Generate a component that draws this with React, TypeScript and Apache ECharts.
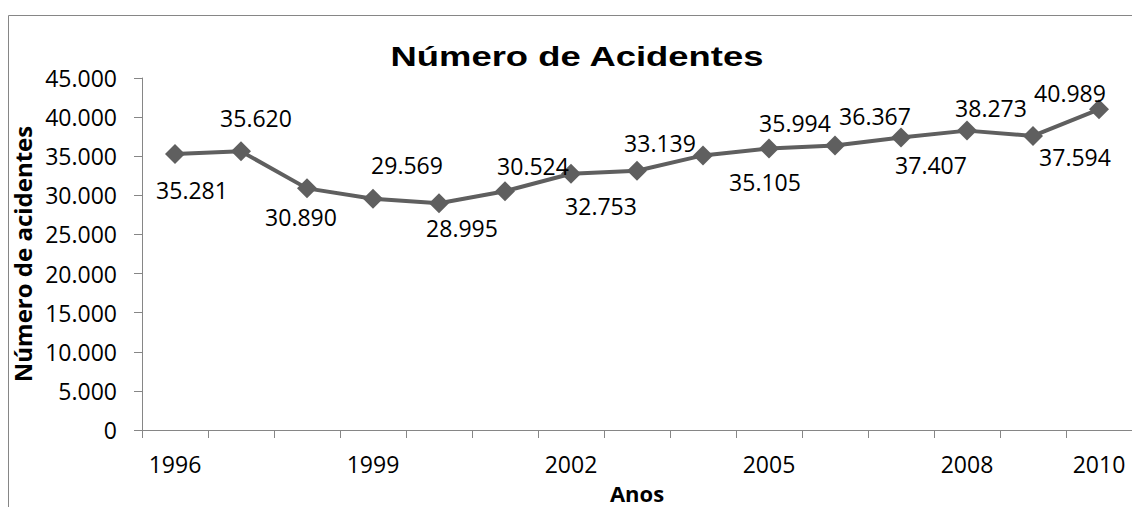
import React, { useEffect, useRef } from "react";
import * as echarts from "echarts";

const years = ["1996", "1997", "1998", "1999", "2000", "2001", "2002", "2003", "2004", "2005", "2006", "2007", "2008", "2009", "2010"];
const accidents = [35281, 35620, 30890, 29569, 28995, 30524, 32753, 33139, 35105, 35994, 36367, 37407, 38273, 37594, 40989];
const shownYearIdx = [0, 3, 6, 9, 12, 14];
// label offsets (dx, dy) relative to each point
const labelOffsets: [number, number][] = [
  [17, 36], [15, -33], [-6, 29], [34, -34], [23, 25], [28, -25], [30, 32], [23, -28],
  [62, 27], [26, -25], [40, -30], [30, 28], [24, -23], [42, 21], [-29, -16],
];

const fmt = (v: number) => {
  if (v === 0) return "0";
  const s = String(Math.round(v));
  return s.replace(/\B(?=(\d{3})+(?!\d))/g, ".");
};

export default function App() {
  const ref = useRef<HTMLDivElement>(null);
  useEffect(() => {
    if (!ref.current) return;
    const chart = echarts.init(ref.current, undefined, { renderer: "svg" });
    const axisColor = "#868686";
    const font = "'Open Sans', sans-serif";
    chart.setOption({
      animation: false,
      backgroundColor: "#ffffff",
      grid: { left: 142, right: 0, top: 78, bottom: 77, containLabel: false, outerBoundsMode: "none" },
      graphic: [
        {
          type: "rect",
          shape: { x: 8.5, y: 15.5, width: 1300, height: 700 },
          style: { fill: "none", stroke: axisColor, lineWidth: 1 },
          silent: true,
        },
        {
          type: "text",
          x: 577,
          y: 57,
          scaleX: 1.3,
          style: {
            text: "Número de Acidentes",
            font: "bold 28px 'Liberation Sans', Arial, sans-serif",
            fill: "#000",
            align: "center",
            verticalAlign: "middle",
          },
        },
      ],
      xAxis: {
        type: "category",
        data: years,
        boundaryGap: true,
        name: "Anos",
        nameLocation: "middle",
        nameGap: 52,
        nameTextStyle: { fontFamily: font, fontWeight: "bold", fontSize: 22, color: "#000" },
        axisLine: { lineStyle: { color: axisColor, width: 1 } },
        axisTick: { show: true, interval: 0, length: 8, lineStyle: { color: axisColor } },
        axisLabel: {
          interval: (i: number) => shownYearIdx.includes(i),
          fontFamily: font,
          fontSize: 23,
          color: "#000",
          margin: 22,
        },
        splitLine: { show: false },
      },
      yAxis: {
        type: "value",
        min: 0,
        max: 45000,
        interval: 5000,
        name: "Número de acidentes",
        nameLocation: "middle",
        nameGap: 104,
        nameRotate: 90,
        nameTextStyle: { fontFamily: font, fontWeight: "bold", fontSize: 24, color: "#000" },
        axisLine: { show: true, lineStyle: { color: axisColor, width: 1 } },
        axisTick: { show: true, length: 8, lineStyle: { color: axisColor } },
        axisLabel: {
          formatter: (v: number) => fmt(v),
          fontFamily: font,
          fontSize: 23,
          color: "#000",
          margin: 25,
        },
        splitLine: { show: false },
      },
      series: [
        {
          type: "line",
          data: accidents.map((v, i) => ({
            value: v,
            label: { offset: labelOffsets[i] },
          })),
          symbol: "diamond",
          symbolSize: 20,
          lineStyle: { color: "#5f5f5f", width: 4 },
          itemStyle: { color: "#5f5f5f" },
          label: {
            show: true,
            position: "inside",
            align: "center",
            verticalAlign: "middle",
            fontFamily: font,
            fontSize: 23,
            color: "#000",
            formatter: (p: any) => fmt(p.value),
          },
          z: 3,
        },
      ],
    });
    return () => chart.dispose();
  }, []);
  return (
    <div
      ref={ref}
      style={{ position: "fixed", left: 0, top: 0, width: 1132, height: 507 }}
    />
  );
}
